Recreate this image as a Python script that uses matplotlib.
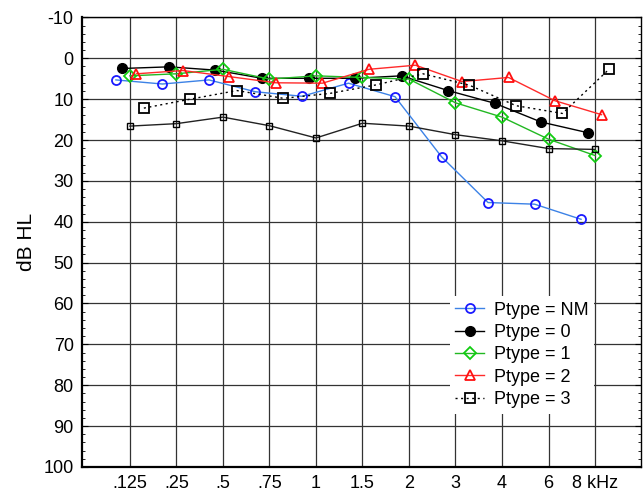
import matplotlib
matplotlib.use("Agg")
import matplotlib.pyplot as plt
import numpy as np
from matplotlib.ticker import MultipleLocator

plt.rcParams['font.family'] = ['Liberation Sans', 'DejaVu Sans']
plt.rcParams['axes.unicode_minus'] = False

freqs = ['.125', '.25', '.5', '.75', '1', '1.5', '2', '3', '4', '6', '8 kHz']

# mean thresholds (dB HL) per patient type
nm = [5.3, 6.3, 5.3, 8.2, 9.3, 6.1, 9.4, 24.1, 35.3, 35.7, 39.4]
p0 = [2.5, 2.1, 2.9, 4.9, 4.9, 4.9, 4.3, 7.9, 11.0, 15.6, 18.2]
p1 = [4.3, 3.8, 2.7, 5.1, 4.3, 4.7, 5.1, 10.9, 14.4, 19.8, 23.8]
p2 = [3.8, 3.0, 4.5, 6.0, 6.1, 2.7, 1.7, 5.7, 4.7, 10.4, 13.8]
p3 = [12.2, 10.0, 7.9, 9.8, 8.6, 6.5, 3.8, 6.6, 11.6, 13.5, 2.7]
ref = [16.6, 16.0, 14.4, 16.5, 19.5, 15.9, 16.6, 18.7, 20.2, 22.1, 22.3]

x = np.arange(len(freqs))

fig = plt.figure(figsize=(6.43, 4.94), dpi=100)
ax = fig.add_axes([0.1275, 0.0547, 0.8695, 0.9101])

ax.plot(x - 0.30, nm, color='#3c82e6', lw=1, marker='o', ms=6.5, mfc='none',
        mec='#1a1aff', mew=1.3, label='Ptype = NM', zorder=3)
ax.plot(x - 0.16, p0, color='black', lw=1, marker='o', ms=7, mfc='black',
        mec='black', label='Ptype = 0', zorder=3)
ax.plot(x, p1, color='#22b822', lw=1, marker='D', ms=6, mfc='none',
        mec='#11cc11', mew=1.3, label='Ptype = 1', zorder=3)
ax.plot(x + 0.14, p2, color='#ff2a2a', lw=1, marker='^', ms=7.5, mfc='none',
        mec='#ff1010', mew=1.3, label='Ptype = 2', zorder=3)
ax.plot(x + 0.30, p3, color='black', lw=1, ls=(0, (1.5, 2.5)), marker='s', ms=7,
        mfc='none', mec='black', mew=1.3, label='Ptype = 3', zorder=3)
ax.plot(x, ref, color='#222222', lw=1, marker='s', ms=4.5, mfc='none',
        mec='black', mew=1, zorder=3)

ax.set_xlim(-1.03, 10.99)
ax.set_ylim(100, -10)
ax.set_xticks(x)
ax.set_xticklabels(freqs, fontsize=13)
ax.yaxis.set_major_locator(MultipleLocator(10))
ax.yaxis.set_minor_locator(MultipleLocator(2))
ax.tick_params(axis='x', length=0, pad=6)
ax.tick_params(axis='y', which='major', direction='in', length=4, labelsize=13,
               right=True, pad=6)
ax.tick_params(axis='y', which='minor', direction='in', length=2, right=True)
ax.grid(True, which='major', color='#333333', lw=0.9)
ax.set_axisbelow(True)
for s in ['left', 'bottom']:
    ax.spines[s].set_linewidth(1.6)
for s in ['top', 'right']:
    ax.spines[s].set_linewidth(1.0)

ax.set_ylabel('dB HL', fontsize=15, labelpad=5)

leg = ax.legend(loc='upper left', bbox_to_anchor=(0.658, 0.38), fontsize=13,
                frameon=True, facecolor='white', edgecolor='white', framealpha=1,
                handlelength=1.6, handletextpad=0.55, labelspacing=0.3,
                borderpad=0.3, borderaxespad=0)
leg.get_frame().set_linewidth(0)

fig.savefig('out.png', dpi=100)
